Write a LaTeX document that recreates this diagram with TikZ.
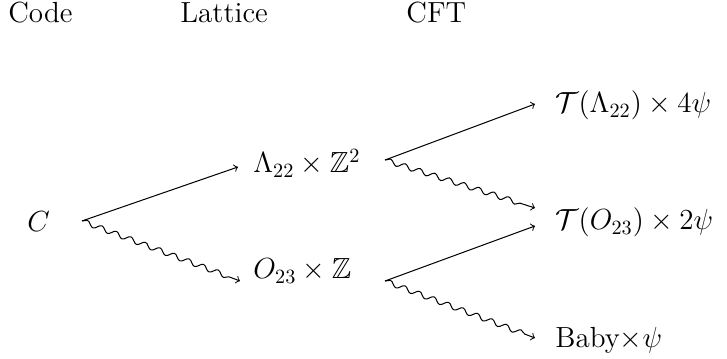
\documentclass[tikz,border=0pt]{standalone}
\usepackage{amsfonts}
\usepackage{amssymb}
\usetikzlibrary{decorations.pathmorphing}

\begin{document}
\begin{tikzpicture}[
    label/.style={
        anchor=base west,
        inner sep=0pt,
        font=\Large
    },
    arrow/.style={->, line width=0.5pt},
    wavy/.style={
        ->,
        line width=0.5pt,
        decorate,
        decoration={snake, amplitude=0.45mm, segment length=2.7mm, post length=1.5mm}
    }
]
\useasboundingbox (0,0) rectangle (12.643,6.226);

\node[label] (code) at (0.139,5.826) {Code};
\node[label] (lattice) at (3.130,5.826) {Lattice};
\node[label] (cft) at (7.061,5.826) {CFT};

\node[label] (C) at (0.470,2.195) {$C$};
\node[label] (lam) at (4.400,3.218) {$\Lambda_{22}\times\mathbb{Z}^2$};
\node[label] (ort) at (4.400,1.374) {$O_{23}\times\mathbb{Z}$};
\node[label] (tlam) at (9.652,4.261) {$\mathcal{T}(\Lambda_{22})\times 4\psi$};
\node[label] (tort) at (9.652,2.226) {$\mathcal{T}(O_{23})\times 2\psi$};
\node[label] (baby) at (9.652,0.174) {Baby$\times\psi$};

\coordinate (C-out) at (1.426,2.383);
\coordinate (lam-out) at (6.696,3.443);
\coordinate (ort-out) at (6.696,1.339);

\draw[arrow] (C-out) -- ([shift={(-0.261,0.104)}]lam.base west);
\draw[wavy] (C-out) -- ([shift={(-0.226,-0.035)}]ort.base west);
\draw[arrow] (lam-out) -- ([shift={(-0.348,0.156)}]tlam.base west);
\draw[wavy] (lam-out) -- ([shift={(-0.348,0.383)}]tort.base west);
\draw[arrow] (ort-out) -- ([shift={(-0.348,0.070)}]tort.base west);
\draw[wavy] (ort-out) -- ([shift={(-0.348,0.174)}]baby.base west);

\end{tikzpicture}
\end{document}
